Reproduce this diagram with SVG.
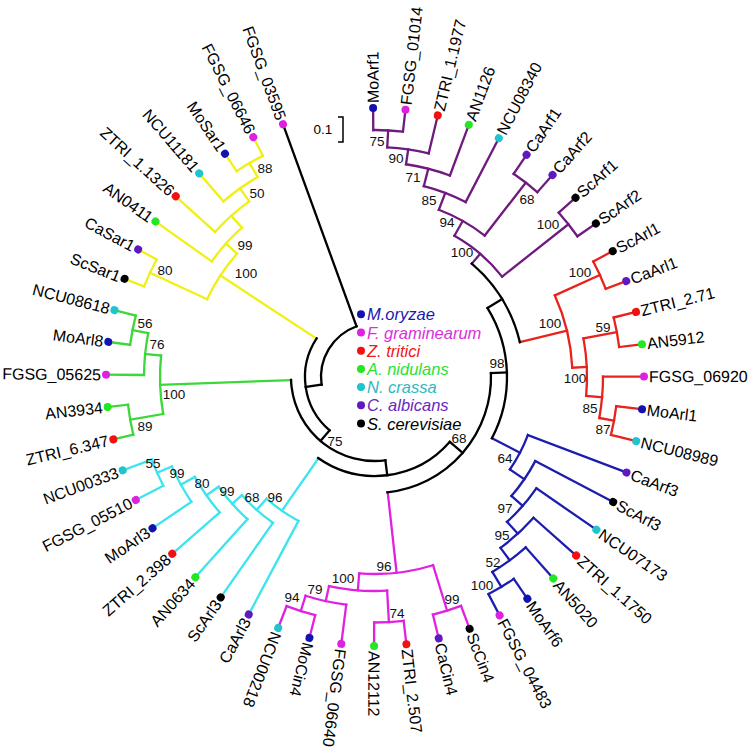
<svg xmlns="http://www.w3.org/2000/svg" width="750" height="750" viewBox="0 0 750 750">
<style>
.e line,.e circle{fill:none;stroke-width:2.3;stroke-linecap:square}
.k{stroke:#000}.p{stroke:#6e1a7e}.r{stroke:#e8231c}.b{stroke:#1c1cb0}.m{stroke:#e022e0}.c{stroke:#3ce4ee}.g{stroke:#3ad83a}.y{stroke:#f0f014}
.M{fill:#1212b0}.F{fill:#e020e0}.Z{fill:#f21010}.A{fill:#22e822}.N{fill:#20c4cc}.C{fill:#6018c0}.S{fill:#000}
text{font-family:"Liberation Sans",Arial,sans-serif}
.t{font-size:16px;fill:#000}
.bs{font-size:13.5px;text-anchor:middle;fill:#111}
.lg{font-size:16.5px;font-style:italic}
</style>
<g id="connectors" class="e" transform="translate(375 377)">
<g class="p">
<line x1="247" x2="269" transform="rotate(-90.4)"/><line x1="247" x2="269" transform="rotate(-83.5)"/>
<line x1="230" x2="247" transform="rotate(-86.95)"/><line x1="230" x2="269" transform="rotate(-76.5)"/>
<line x1="215" x2="230" transform="rotate(-81.7)"/><line x1="215" x2="269" transform="rotate(-69.6)"/>
<line x1="197" x2="215" transform="rotate(-75.65)"/><line x1="197" x2="269" transform="rotate(-62.6)"/>
<line x1="179" x2="197" transform="rotate(-69.1)"/>
<line x1="246" x2="269" transform="rotate(-55.7)"/><line x1="246" x2="269" transform="rotate(-48.7)"/>
<line x1="179" x2="246" transform="rotate(-52.2)"/><line x1="162" x2="179" transform="rotate(-60.65)"/>
<line x1="246.5" x2="269" transform="rotate(-41.8)"/><line x1="246.5" x2="269" transform="rotate(-34.8)"/>
<line x1="162" x2="246.5" transform="rotate(-38.3)"/><line x1="149" x2="162" transform="rotate(-49.5)"/>
<circle r="247" stroke-dasharray="29.75 2000" transform="rotate(-90.4)"/>
<circle r="230" stroke-dasharray="41.95 2000" transform="rotate(-86.95)"/>
<circle r="215" stroke-dasharray="45.4 2000" transform="rotate(-81.7)"/>
<circle r="197" stroke-dasharray="44.87 2000" transform="rotate(-75.65)"/>
<circle r="246" stroke-dasharray="30.05 2000" transform="rotate(-55.7)"/>
<circle r="179" stroke-dasharray="52.8 2000" transform="rotate(-69.1)"/>
<circle r="246.5" stroke-dasharray="30.12 2000" transform="rotate(-41.8)"/>
<circle r="162" stroke-dasharray="63.19 2000" transform="rotate(-60.65)"/>
</g>
<g class="r">
<line x1="247" x2="269" transform="rotate(-27.9)"/><line x1="247" x2="269" transform="rotate(-20.9)"/>
<line x1="197.5" x2="247" transform="rotate(-24.4)"/>
<line x1="246" x2="269" transform="rotate(-14)"/><line x1="246" x2="269" transform="rotate(-7)"/>
<line x1="212" x2="246" transform="rotate(-10.5)"/><line x1="228" x2="269" transform="rotate(-0.1)"/>
<line x1="243" x2="269" transform="rotate(6.9)"/><line x1="243" x2="269" transform="rotate(13.8)"/>
<line x1="228" x2="243" transform="rotate(10.35)"/><line x1="212" x2="228" transform="rotate(5.1)"/>
<line x1="197.5" x2="212" transform="rotate(-2.7)"/><line x1="149" x2="197.5" transform="rotate(-13.55)"/>
<circle r="247" stroke-dasharray="30.18 2000" transform="rotate(-27.9)"/>
<circle r="246" stroke-dasharray="30.05 2000" transform="rotate(-14)"/>
<circle r="243" stroke-dasharray="29.26 2000" transform="rotate(6.9)"/>
<circle r="228" stroke-dasharray="41.58 2000" transform="rotate(-0.1)"/>
<circle r="212" stroke-dasharray="57.72 2000" transform="rotate(-10.5)"/>
<circle r="197.5" stroke-dasharray="74.8 2000" transform="rotate(-24.4)"/>
</g>
<g class="b">
<line x1="245" x2="269" transform="rotate(55.5)"/><line x1="245" x2="269" transform="rotate(62.4)"/>
<line x1="227.5" x2="245" transform="rotate(58.95)"/><line x1="227.5" x2="269" transform="rotate(48.5)"/>
<line x1="212" x2="227.5" transform="rotate(53.7)"/><line x1="212" x2="269" transform="rotate(41.6)"/>
<line x1="196" x2="212" transform="rotate(47.65)"/><line x1="196" x2="269" transform="rotate(34.6)"/>
<line x1="181" x2="196" transform="rotate(41.1)"/><line x1="181" x2="269" transform="rotate(27.7)"/>
<line x1="163.5" x2="181" transform="rotate(34.4)"/><line x1="163.5" x2="269" transform="rotate(20.8)"/>
<line x1="132" x2="163.5" transform="rotate(27.6)"/>
<circle r="245" stroke-dasharray="29.5 2000" transform="rotate(55.5)"/>
<circle r="227.5" stroke-dasharray="41.49 2000" transform="rotate(48.5)"/>
<circle r="212" stroke-dasharray="44.77 2000" transform="rotate(41.6)"/>
<circle r="196" stroke-dasharray="44.64 2000" transform="rotate(34.6)"/>
<circle r="181" stroke-dasharray="42.33 2000" transform="rotate(27.7)"/>
<circle r="163.5" stroke-dasharray="38.81 2000" transform="rotate(20.8)"/>
</g>
<g class="m">
<line x1="244.5" x2="269" transform="rotate(69.4)"/><line x1="244.5" x2="269" transform="rotate(76.3)"/>
<line x1="197" x2="244.5" transform="rotate(72.85)"/>
<line x1="245.5" x2="269" transform="rotate(83.3)"/><line x1="245.5" x2="269" transform="rotate(90.2)"/>
<line x1="214" x2="245.5" transform="rotate(86.75)"/>
<line x1="245.5" x2="269" transform="rotate(104.1)"/><line x1="245.5" x2="269" transform="rotate(111.1)"/>
<line x1="229.5" x2="245.5" transform="rotate(107.6)"/><line x1="229.5" x2="269" transform="rotate(97.2)"/>
<line x1="214" x2="229.5" transform="rotate(102.4)"/><line x1="197" x2="214" transform="rotate(94.6)"/>
<line x1="116" x2="197" transform="rotate(83.7)"/>
<circle r="244.5" stroke-dasharray="29.44 2000" transform="rotate(69.4)"/>
<circle r="245.5" stroke-dasharray="29.57 2000" transform="rotate(83.3)"/>
<circle r="245.5" stroke-dasharray="29.99 2000" transform="rotate(104.1)"/>
<circle r="229.5" stroke-dasharray="41.66 2000" transform="rotate(97.2)"/>
<circle r="214" stroke-dasharray="58.45 2000" transform="rotate(86.75)"/>
<circle r="197" stroke-dasharray="74.78 2000" transform="rotate(72.85)"/>
</g>
<g class="c">
<line x1="238" x2="269" transform="rotate(152.8)"/><line x1="238" x2="269" transform="rotate(159.7)"/>
<line x1="222" x2="238" transform="rotate(156.25)"/><line x1="222" x2="269" transform="rotate(145.8)"/>
<line x1="206" x2="222" transform="rotate(151)"/><line x1="206" x2="269" transform="rotate(138.9)"/>
<line x1="191" x2="206" transform="rotate(144.95)"/><line x1="191" x2="269" transform="rotate(131.9)"/>
<line x1="178" x2="191" transform="rotate(138.4)"/><line x1="178" x2="269" transform="rotate(125)"/>
<line x1="163" x2="178" transform="rotate(131.7)"/><line x1="163" x2="269" transform="rotate(118)"/>
<line x1="99" x2="163" transform="rotate(124.85)"/>
<circle r="238" stroke-dasharray="28.66 2000" transform="rotate(152.8)"/>
<circle r="222" stroke-dasharray="40.49 2000" transform="rotate(145.8)"/>
<circle r="206" stroke-dasharray="43.5 2000" transform="rotate(138.9)"/>
<circle r="191" stroke-dasharray="43.5 2000" transform="rotate(131.9)"/>
<circle r="178" stroke-dasharray="41.63 2000" transform="rotate(125)"/>
<circle r="163" stroke-dasharray="38.98 2000" transform="rotate(118)"/>
</g>
<g class="g">
<line x1="248.5" x2="269" transform="rotate(166.6)"/><line x1="248.5" x2="269" transform="rotate(173.6)"/>
<line x1="215" x2="248.5" transform="rotate(170.1)"/>
<line x1="247" x2="269" transform="rotate(187.5)"/><line x1="247" x2="269" transform="rotate(194.4)"/>
<line x1="231" x2="247" transform="rotate(190.95)"/><line x1="231" x2="269" transform="rotate(180.5)"/>
<line x1="215" x2="231" transform="rotate(185.7)"/><line x1="84" x2="215" transform="rotate(177.9)"/>
<circle r="248.5" stroke-dasharray="30.36 2000" transform="rotate(166.6)"/>
<circle r="247" stroke-dasharray="29.75 2000" transform="rotate(187.5)"/>
<circle r="231" stroke-dasharray="42.13 2000" transform="rotate(180.5)"/>
<circle r="215" stroke-dasharray="58.54 2000" transform="rotate(170.1)"/>
</g>
<g class="y">
<line x1="248" x2="269" transform="rotate(201.4)"/><line x1="248" x2="269" transform="rotate(208.3)"/>
<line x1="185" x2="248" transform="rotate(204.85)"/>
<line x1="248" x2="269" transform="rotate(236.1)"/><line x1="248" x2="269" transform="rotate(243.1)"/>
<line x1="232" x2="248" transform="rotate(239.6)"/><line x1="232" x2="269" transform="rotate(229.2)"/>
<line x1="216" x2="232" transform="rotate(234.4)"/><line x1="216" x2="269" transform="rotate(222.2)"/>
<line x1="200" x2="216" transform="rotate(228.3)"/><line x1="200" x2="269" transform="rotate(215.3)"/>
<line x1="185" x2="200" transform="rotate(221.8)"/><line x1="70" x2="185" transform="rotate(213.3)"/>
<circle r="248" stroke-dasharray="29.87 2000" transform="rotate(201.4)"/>
<circle r="248" stroke-dasharray="30.3 2000" transform="rotate(236.1)"/>
<circle r="232" stroke-dasharray="42.11 2000" transform="rotate(229.2)"/>
<circle r="216" stroke-dasharray="45.99 2000" transform="rotate(222.2)"/>
<circle r="200" stroke-dasharray="45.38 2000" transform="rotate(215.3)"/>
<circle r="185" stroke-dasharray="54.73 2000" transform="rotate(204.85)"/>
</g>
<g class="k">
<line x1="132" x2="149" transform="rotate(-31.5)"/><line x1="116" x2="132" transform="rotate(-1.95)"/>
<line x1="99" x2="116" transform="rotate(40.9)"/><line x1="84" x2="99" transform="rotate(82.9)"/>
<line x1="70" x2="84" transform="rotate(130.4)"/><line x1="54" x2="70" transform="rotate(171.85)"/>
<line x1="54" x2="269" transform="rotate(250)"/>
<circle r="149" stroke-dasharray="93.49 2000" transform="rotate(-49.5)"/>
<circle r="132" stroke-dasharray="136.16 2000" transform="rotate(-31.5)"/>
<circle r="116" stroke-dasharray="173.41 2000" transform="rotate(-1.95)"/>
<circle r="99" stroke-dasharray="145.06 2000" transform="rotate(40.9)"/>
<circle r="84" stroke-dasharray="139.28 2000" transform="rotate(82.9)"/>
<circle r="70" stroke-dasharray="101.28 2000" transform="rotate(130.4)"/>
<circle r="54" stroke-dasharray="73.65 2000" transform="rotate(171.85)"/>
</g>
</g>
<g id="leaves" transform="translate(375 377)">
<g id="MoArf1" transform="rotate(-90.4)"><circle class="M" cx="269" r="4"/><text class="t" x="274" dy=".35em">MoArf1</text></g>
<g id="FGSG_01014" transform="rotate(-83.5)"><circle class="F" cx="269" r="4"/><text class="t" x="274" dy=".35em">FGSG_01014</text></g>
<g id="ZTRI_1.1977" transform="rotate(-76.5)"><circle class="Z" cx="269" r="4"/><text class="t" x="274" dy=".35em">ZTRI_1.1977</text></g>
<g id="AN1126" transform="rotate(-69.6)"><circle class="A" cx="269" r="4"/><text class="t" x="274" dy=".35em">AN1126</text></g>
<g id="NCU08340" transform="rotate(-62.6)"><circle class="N" cx="269" r="4"/><text class="t" x="274" dy=".35em">NCU08340</text></g>
<g id="CaArf1" transform="rotate(-55.7)"><circle class="C" cx="269" r="4"/><text class="t" x="274" dy=".35em">CaArf1</text></g>
<g id="CaArf2" transform="rotate(-48.7)"><circle class="C" cx="269" r="4"/><text class="t" x="274" dy=".35em">CaArf2</text></g>
<g id="ScArf1" transform="rotate(-41.8)"><circle class="S" cx="269" r="4"/><text class="t" x="274" dy=".35em">ScArf1</text></g>
<g id="ScArf2" transform="rotate(-34.8)"><circle class="S" cx="269" r="4"/><text class="t" x="274" dy=".35em">ScArf2</text></g>
<g id="ScArl1" transform="rotate(-27.9)"><circle class="S" cx="269" r="4"/><text class="t" x="274" dy=".35em">ScArl1</text></g>
<g id="CaArl1" transform="rotate(-20.9)"><circle class="C" cx="269" r="4"/><text class="t" x="274" dy=".35em">CaArl1</text></g>
<g id="ZTRI_2.71" transform="rotate(-14)"><circle class="Z" cx="269" r="4"/><text class="t" x="274" dy=".35em">ZTRI_2.71</text></g>
<g id="AN5912" transform="rotate(-7)"><circle class="A" cx="269" r="4"/><text class="t" x="274" dy=".35em">AN5912</text></g>
<g id="FGSG_06920" transform="rotate(-0.1)"><circle class="F" cx="269" r="4"/><text class="t" x="274" dy=".35em">FGSG_06920</text></g>
<g id="MoArl1" transform="rotate(6.9)"><circle class="M" cx="269" r="4"/><text class="t" x="274" dy=".35em">MoArl1</text></g>
<g id="NCU08989" transform="rotate(13.8)"><circle class="N" cx="269" r="4"/><text class="t" x="274" dy=".35em">NCU08989</text></g>
<g id="CaArf3" transform="rotate(20.8)"><circle class="C" cx="269" r="4"/><text class="t" x="274" dy=".35em">CaArf3</text></g>
<g id="ScArf3" transform="rotate(27.7)"><circle class="S" cx="269" r="4"/><text class="t" x="274" dy=".35em">ScArf3</text></g>
<g id="NCU07173" transform="rotate(34.6)"><circle class="N" cx="269" r="4"/><text class="t" x="274" dy=".35em">NCU07173</text></g>
<g id="ZTRI_1.1750" transform="rotate(41.6)"><circle class="Z" cx="269" r="4"/><text class="t" x="274" dy=".35em">ZTRI_1.1750</text></g>
<g id="AN5020" transform="rotate(48.5)"><circle class="A" cx="269" r="4"/><text class="t" x="274" dy=".35em">AN5020</text></g>
<g id="MoArf6" transform="rotate(55.5)"><circle class="M" cx="269" r="4"/><text class="t" x="274" dy=".35em">MoArf6</text></g>
<g id="FGSG_04483" transform="rotate(62.4)"><circle class="F" cx="269" r="4"/><text class="t" x="274" dy=".35em">FGSG_04483</text></g>
<g id="ScCin4" transform="rotate(69.4)"><circle class="S" cx="269" r="4"/><text class="t" x="274" dy=".35em">ScCin4</text></g>
<g id="CaCin4" transform="rotate(76.3)"><circle class="C" cx="269" r="4"/><text class="t" x="274" dy=".35em">CaCin4</text></g>
<g id="ZTRI_2.507" transform="rotate(83.3)"><circle class="Z" cx="269" r="4"/><text class="t" x="274" dy=".35em">ZTRI_2.507</text></g>
<g id="AN12112" transform="rotate(90.2)"><circle class="A" cx="269" r="4"/><text class="t" x="274" dy=".35em">AN12112</text></g>
<g id="FGSG_06640" transform="rotate(97.2)"><circle class="F" cx="269" r="4"/><text class="t" x="274" dy=".35em">FGSG_06640</text></g>
<g id="MoCin4" transform="rotate(104.1)"><circle class="M" cx="269" r="4"/><text class="t" x="274" dy=".35em">MoCin4</text></g>
<g id="NCU00218" transform="rotate(111.1)"><circle class="N" cx="269" r="4"/><text class="t" x="274" dy=".35em">NCU00218</text></g>
<g id="CaArl3" transform="rotate(118)"><circle class="C" cx="269" r="4"/><text class="t" x="-274" dy=".35em" text-anchor="end" transform="rotate(180)">CaArl3</text></g>
<g id="ScArl3" transform="rotate(125)"><circle class="S" cx="269" r="4"/><text class="t" x="-274" dy=".35em" text-anchor="end" transform="rotate(180)">ScArl3</text></g>
<g id="AN0634" transform="rotate(131.9)"><circle class="A" cx="269" r="4"/><text class="t" x="-274" dy=".35em" text-anchor="end" transform="rotate(180)">AN0634</text></g>
<g id="ZTRI_2.398" transform="rotate(138.9)"><circle class="Z" cx="269" r="4"/><text class="t" x="-274" dy=".35em" text-anchor="end" transform="rotate(180)">ZTRI_2.398</text></g>
<g id="MoArl3" transform="rotate(145.8)"><circle class="M" cx="269" r="4"/><text class="t" x="-274" dy=".35em" text-anchor="end" transform="rotate(180)">MoArl3</text></g>
<g id="FGSG_05510" transform="rotate(152.8)"><circle class="F" cx="269" r="4"/><text class="t" x="-274" dy=".35em" text-anchor="end" transform="rotate(180)">FGSG_05510</text></g>
<g id="NCU00333" transform="rotate(159.7)"><circle class="N" cx="269" r="4"/><text class="t" x="-274" dy=".35em" text-anchor="end" transform="rotate(180)">NCU00333</text></g>
<g id="ZTRI_6.347" transform="rotate(166.6)"><circle class="Z" cx="269" r="4"/><text class="t" x="-274" dy=".35em" text-anchor="end" transform="rotate(180)">ZTRI_6.347</text></g>
<g id="AN3934" transform="rotate(173.6)"><circle class="A" cx="269" r="4"/><text class="t" x="-274" dy=".35em" text-anchor="end" transform="rotate(180)">AN3934</text></g>
<g id="FGSG_05625" transform="rotate(180.5)"><circle class="F" cx="269" r="4"/><text class="t" x="-274" dy=".35em" text-anchor="end" transform="rotate(180)">FGSG_05625</text></g>
<g id="MoArl8" transform="rotate(187.5)"><circle class="M" cx="269" r="4"/><text class="t" x="-274" dy=".35em" text-anchor="end" transform="rotate(180)">MoArl8</text></g>
<g id="NCU08618" transform="rotate(194.4)"><circle class="N" cx="269" r="4"/><text class="t" x="-274" dy=".35em" text-anchor="end" transform="rotate(180)">NCU08618</text></g>
<g id="ScSar1" transform="rotate(201.4)"><circle class="S" cx="269" r="4"/><text class="t" x="-274" dy=".35em" text-anchor="end" transform="rotate(180)">ScSar1</text></g>
<g id="CaSar1" transform="rotate(208.3)"><circle class="C" cx="269" r="4"/><text class="t" x="-274" dy=".35em" text-anchor="end" transform="rotate(180)">CaSar1</text></g>
<g id="AN0411" transform="rotate(215.3)"><circle class="A" cx="269" r="4"/><text class="t" x="-274" dy=".35em" text-anchor="end" transform="rotate(180)">AN0411</text></g>
<g id="ZTRI_1.1326" transform="rotate(222.2)"><circle class="Z" cx="269" r="4"/><text class="t" x="-274" dy=".35em" text-anchor="end" transform="rotate(180)">ZTRI_1.1326</text></g>
<g id="NCU11181" transform="rotate(229.2)"><circle class="N" cx="269" r="4"/><text class="t" x="-274" dy=".35em" text-anchor="end" transform="rotate(180)">NCU11181</text></g>
<g id="MoSar1" transform="rotate(236.1)"><circle class="M" cx="269" r="4"/><text class="t" x="-274" dy=".35em" text-anchor="end" transform="rotate(180)">MoSar1</text></g>
<g id="FGSG_06646" transform="rotate(243.1)"><circle class="F" cx="269" r="4"/><text class="t" x="-274" dy=".35em" text-anchor="end" transform="rotate(180)">FGSG_06646</text></g>
<g id="FGSG_03595" transform="rotate(250)"><circle class="F" cx="269" r="4"/><text class="t" x="-274" dy=".35em" text-anchor="end" transform="rotate(180)">FGSG_03595</text></g>
</g>
<g id="bootstrap" class="bs">
<text x="377" y="146">75</text><text x="396" y="163">90</text><text x="413" y="182">71</text><text x="429" y="205">85</text><text x="447" y="227">94</text><text x="462" y="257">100</text><text x="527" y="204">68</text><text x="548" y="229">100</text>
<text x="580" y="277">100</text><text x="550" y="328">100</text><text x="603" y="332">59</text><text x="575" y="383">100</text><text x="590" y="413">85</text><text x="603" y="434">87</text>
<text x="497" y="368">98</text><text x="459" y="443">68</text><text x="335" y="446">75</text>
<text x="505" y="463">64</text><text x="505" y="513">97</text><text x="502" y="540">95</text><text x="493" y="567">52</text><text x="482" y="590">100</text>
<text x="384" y="571">96</text><text x="343" y="583">100</text><text x="315" y="594">79</text><text x="292" y="602">94</text><text x="397" y="618">74</text><text x="452" y="604">99</text>
<text x="153" y="468">55</text><text x="177" y="478">99</text><text x="202" y="488">80</text><text x="227" y="496">99</text><text x="252" y="502">68</text><text x="275" y="502">96</text>
<text x="145" y="328">56</text><text x="157" y="349">76</text><text x="174" y="399">100</text><text x="145" y="431">89</text>
<text x="265" y="173">88</text><text x="257" y="198">50</text><text x="245" y="250">99</text><text x="246" y="278">100</text><text x="165" y="275">80</text>
</g>
<g id="scale">
<text x="323" y="134" font-size="13.5" text-anchor="middle">0.1</text>
<path d="M338,117 H343 V142 H338" fill="none" stroke="#000" stroke-width="1.5"/>
</g>
<g id="legend" class="lg">
<circle cx="361" cy="314.3" r="4" class="M"/><text x="367" y="320.3" fill="#1a1ab0">M.oryzae</text>
<circle cx="361" cy="332.5" r="4" class="F"/><text x="367" y="338.5" fill="#d930d9">F. graminearum</text>
<circle cx="361" cy="350.7" r="4" class="Z"/><text x="367" y="356.7" fill="#f01818">Z. tritici</text>
<circle cx="361" cy="368.9" r="4" class="A"/><text x="367" y="374.9" fill="#30e030">A. nidulans</text>
<circle cx="361" cy="387.1" r="4" class="N"/><text x="367" y="393.1" fill="#30b8c0">N. crassa</text>
<circle cx="361" cy="405.3" r="4" class="C"/><text x="367" y="411.3" fill="#6a28c0">C. albicans</text>
<circle cx="361" cy="423.5" r="4" class="S"/><text x="367" y="429.5" fill="#000">S. cerevisiae</text>
</g>
</svg>
